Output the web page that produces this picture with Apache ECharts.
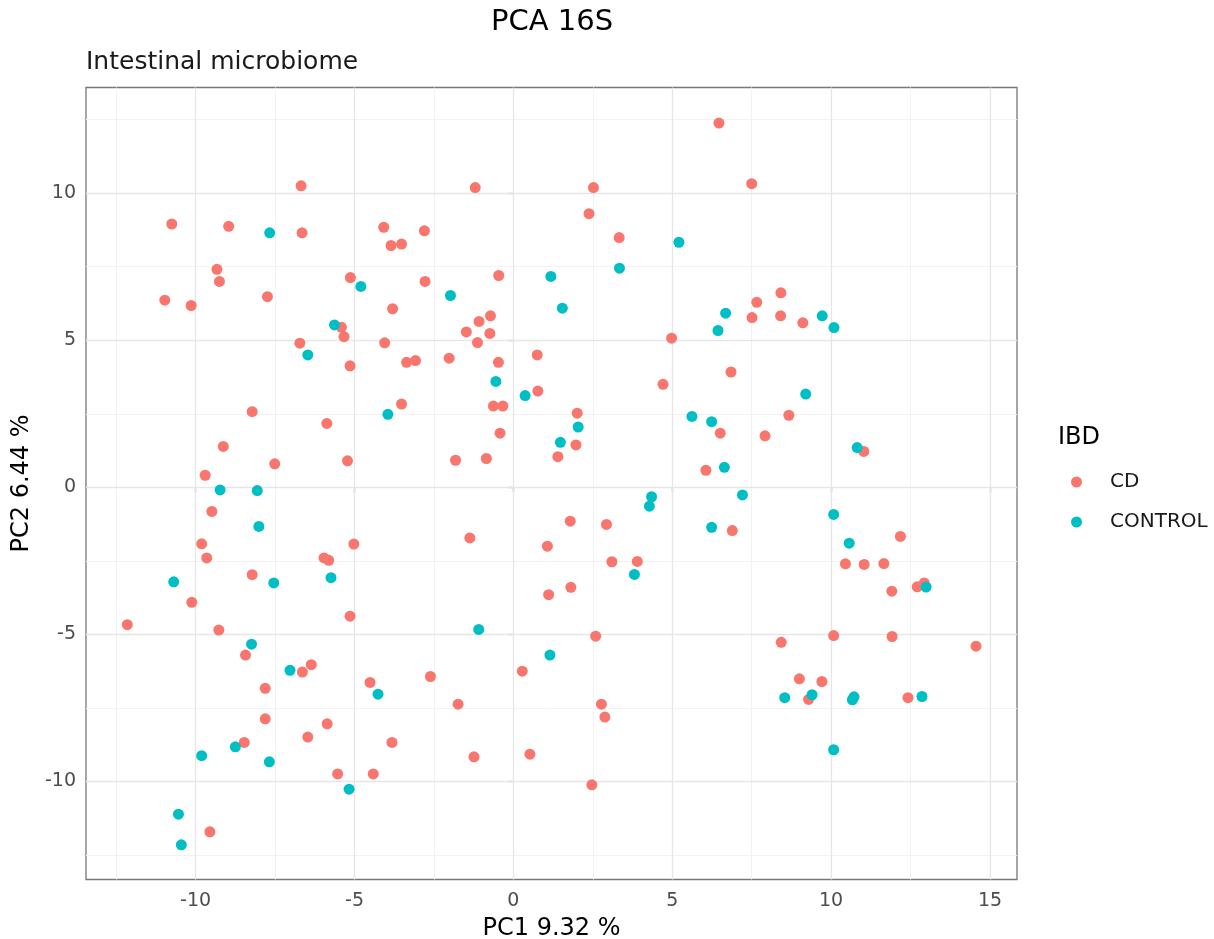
<!DOCTYPE html>
<html>
<head>
<meta charset="utf-8">
<script src="https://cdn.jsdelivr.net/npm/echarts@6/dist/echarts.min.js"></script>
<style>
  html, body { margin: 0; background: #fff; }
  #chart { width: 1214px; height: 939px; }
</style>
</head>
<body>
<div id="chart"></div>
<script>
// PC1 / PC2 scores
const cdPoints = [
  [-6.68, 10.25], [-10.75, 8.95], [-8.96, 8.87], [-6.65, 8.65], [-4.08, 8.84], [-3.85, 8.22], [-3.52, 8.27],
  [-9.33, 7.41], [-9.25, 7.00], [-5.13, 7.13], [-10.97, 6.36], [-10.14, 6.18], [-7.74, 6.48], [-3.80, 6.07],
  [-5.41, 5.44], [-5.33, 5.12], [-6.72, 4.90], [-4.05, 4.91],
  [-1.20, 10.19], [2.52, 10.19], [2.38, 9.30], [-2.80, 8.72], [3.33, 8.49], [-2.78, 7.00], [-0.46, 7.20],
  [-0.72, 5.83], [-1.08, 5.64], [-1.48, 5.28], [-0.74, 5.23], [-1.13, 4.92], [4.98, 5.07], [0.75, 4.50],
  [6.47, 12.38], [7.50, 10.32], [8.42, 6.61], [7.66, 6.29], [7.51, 5.77], [8.41, 5.83], [9.11, 5.59],
  [-5.14, 4.13], [-8.22, 2.57], [-3.52, 2.83], [-5.87, 2.17], [-9.13, 1.39], [-7.51, 0.80], [-5.22, 0.90],
  [-9.70, 0.41], [-9.49, -0.82], [-9.81, -1.92], [-5.02, -1.93], [-9.65, -2.40], [-5.96, -2.40], [-5.81, -2.48],
  [-8.22, -2.97], [-10.12, -3.91], [-5.14, -4.38],
  [-3.36, 4.25], [-3.08, 4.31], [-2.02, 4.39], [-0.47, 4.25], [0.77, 3.27], [4.71, 3.50], [-0.63, 2.76],
  [-0.33, 2.76], [2.01, 2.52], [-0.42, 1.84], [1.97, 1.44], [-1.82, 0.92], [-0.85, 0.98], [1.40, 1.04],
  [6.06, 0.58], [1.79, -1.15], [2.93, -1.26], [-1.37, -1.72], [1.07, -2.00], [3.10, -2.53], [3.90, -2.52],
  [1.11, -3.65], [1.81, -3.40],
  [6.85, 3.92], [8.67, 2.45], [6.51, 1.84], [7.92, 1.75], [11.03, 1.22], [6.89, -1.47], [12.18, -1.67],
  [10.45, -2.60], [11.04, -2.62], [11.66, -2.59], [11.91, -3.53], [12.71, -3.38], [12.93, -3.25],
  [-12.15, -4.67], [-9.27, -4.85], [-8.43, -5.70], [-6.64, -6.28], [-6.36, -6.03], [-7.81, -6.83], [-4.51, -6.63],
  [-3.82, -8.67], [-7.81, -7.87], [-5.86, -8.04], [-6.47, -8.49], [-8.47, -8.67], [-5.53, -9.74], [-4.41, -9.74],
  [-9.55, -11.71],
  [2.59, -5.06], [-2.61, -6.43], [0.28, -6.25], [-1.74, -7.37], [2.77, -7.37], [2.88, -7.81], [-1.24, -9.16],
  [0.52, -9.07], [2.47, -10.11],
  [8.43, -5.27], [10.08, -5.04], [11.92, -5.07], [14.56, -5.40], [9.00, -6.51], [9.71, -6.60], [9.29, -7.21],
  [12.42, -7.15]
];
const controlPoints = [
  [-7.67, 8.65], [-4.80, 6.83], [-5.63, 5.52], [-6.47, 4.50],
  [5.21, 8.33], [1.18, 7.17], [3.34, 7.45], [-1.98, 6.52], [1.54, 6.09],
  [6.68, 5.92], [9.72, 5.83], [10.09, 5.43], [6.44, 5.33],
  [-3.95, 2.48], [-9.23, -0.09], [-8.06, -0.11], [-8.01, -1.33], [-10.69, -3.21], [-7.54, -3.25], [-5.74, -3.07],
  [-0.55, 3.60], [0.37, 3.12], [2.04, 2.05], [5.62, 2.41], [6.24, 2.23], [1.48, 1.53], [4.35, -0.32],
  [4.28, -0.64], [6.24, -1.36], [3.81, -2.96],
  [9.20, 3.17], [10.82, 1.35], [6.64, 0.68], [7.21, -0.26], [10.08, -0.92], [10.57, -1.90], [12.99, -3.39],
  [-8.24, -5.33], [-7.03, -6.22], [-4.26, -7.03], [-8.75, -8.82], [-9.81, -9.12], [-7.68, -9.33], [-5.17, -10.26],
  [-10.54, -11.11], [-10.45, -12.15],
  [-1.09, -4.83], [1.15, -5.70],
  [8.54, -7.15], [9.40, -7.05], [10.72, -7.12], [10.67, -7.22], [12.86, -7.11], [10.08, -8.92]
];

const xTicks = [-10, -5, 0, 5, 10, 15];
const yTicks = [-10, -5, 0, 5, 10];
const xMinor = [-12.5, -7.5, -2.5, 2.5, 7.5, 12.5];
const yMinor = [-12.5, -7.5, -2.5, 2.5, 7.5, 12.5];
const xRange = [-13.45, 15.85];
const yRange = [-13.33, 13.59];

const FONT = 'DejaVu Sans';
const majorLine = { color: '#e6e6e6', width: 1.3, type: 'solid' };
const minorLine = { color: '#f2f2f2', width: 1, type: 'solid' };

// ggplot style grid lines, drawn through the axes with markLine
const gridLines = [].concat(
  xMinor.map(v => ({ xAxis: v, lineStyle: minorLine })),
  yMinor.map(v => ({ yAxis: v, lineStyle: minorLine })),
  xTicks.map(v => ({ xAxis: v, lineStyle: majorLine })),
  yTicks.map(v => ({ yAxis: v, lineStyle: majorLine }))
);

const chart = echarts.init(document.getElementById('chart'));
chart.setOption({
  animation: false,
  textStyle: { fontFamily: FONT },
  graphic: [
    { type: 'text', x: 552, y: 22, style: { text: 'PCA 16S', fontSize: 29, fontFamily: FONT, fill: '#000', align: 'center', verticalAlign: 'middle' } },
    { type: 'text', x: 86, y: 62, style: { text: 'Intestinal microbiome', fontSize: 25, fontFamily: FONT, fill: '#1a1a1a', align: 'left', verticalAlign: 'middle' } },
    { type: 'text', x: 1058, y: 438, style: { text: 'IBD', fontSize: 24, fontFamily: FONT, fill: '#000', align: 'left', verticalAlign: 'middle' } }
  ],
  legend: {
    orient: 'vertical',
    left: 1066,
    top: 467,
    icon: 'circle',
    itemWidth: 11,
    itemHeight: 11,
    itemGap: 20,
    selectedMode: false,
    textStyle: { fontSize: 20, fontFamily: FONT, color: '#1a1a1a', lineHeight: 20, padding: [0, 0, 0, 23] },
    data: ['CD', 'CONTROL']
  },
  grid: {
    left: 86, top: 87.5, width: 931, height: 792,
    outerBoundsMode: 'none',
    show: true, borderColor: '#777', borderWidth: 1.3, backgroundColor: 'transparent'
  },
  xAxis: {
    type: 'value', min: xRange[0], max: xRange[1],
    name: 'PC1 9.32 %', nameLocation: 'middle', nameGap: 37,
    nameTextStyle: { fontSize: 24, color: '#000', fontFamily: FONT },
    axisLine: { show: false },
    axisTick: { show: true, customValues: xTicks, length: 5, lineStyle: { color: '#333', width: 1.2 } },
    axisLabel: { customValues: xTicks, color: '#4d4d4d', fontSize: 19, margin: 12, fontFamily: FONT },
    splitLine: { show: false }
  },
  yAxis: {
    type: 'value', min: yRange[0], max: yRange[1],
    name: 'PC2 6.44 %', nameLocation: 'middle', nameGap: 52,
    nameTextStyle: { fontSize: 24, color: '#000', fontFamily: FONT },
    axisLine: { show: false },
    axisTick: { show: true, customValues: yTicks, length: 5, lineStyle: { color: '#333', width: 1.2 } },
    axisLabel: { customValues: yTicks, color: '#4d4d4d', fontSize: 19, margin: 10, fontFamily: FONT },
    splitLine: { show: false }
  },
  series: [
    {
      name: 'CD', type: 'scatter', z: 2, symbolSize: 11,
      itemStyle: { color: '#F8766D', opacity: 1 },
      data: cdPoints,
      markLine: { silent: true, z: 1, symbol: ['none', 'none'], label: { show: false }, emphasis: { disabled: true }, data: gridLines }
    },
    {
      name: 'CONTROL', type: 'scatter', z: 3, symbolSize: 11,
      itemStyle: { color: '#00BFC4', opacity: 1 },
      data: controlPoints
    }
  ]
});
window.onresize = () => chart.resize();
</script>
</body>
</html>
